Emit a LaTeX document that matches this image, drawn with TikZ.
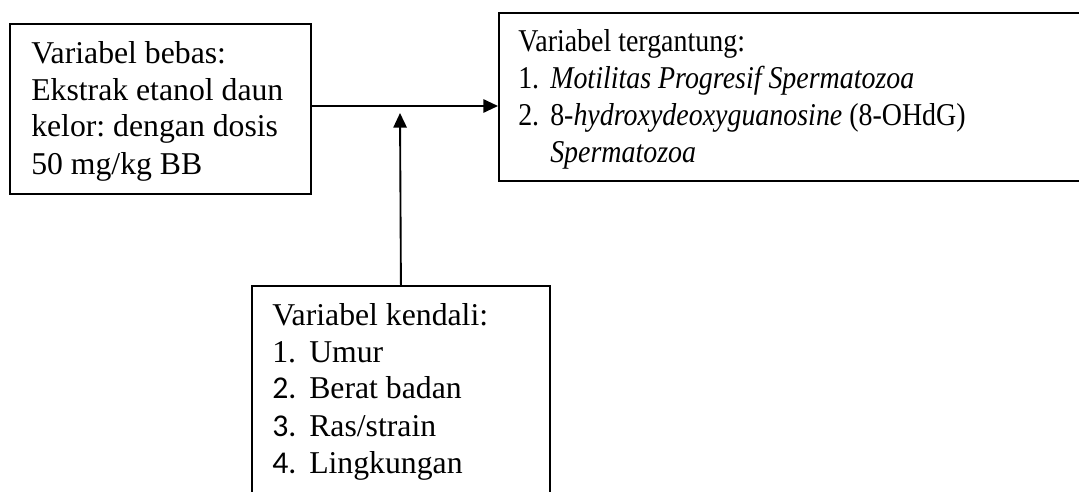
\documentclass[tikz,border=0pt]{standalone}
\usepackage{fontspec}
\setmainfont{Liberation Serif}
\newfontfamily\numfont{Carlito}
\usetikzlibrary{arrows.meta}
\frenchspacing
% condensed text in the dependent-variable box
\newcommand{\cond}[1]{\scalebox{0.88}[1]{#1}}
\begin{document}
\begin{tikzpicture}[x=0.75pt,y=-0.75pt,
  box/.style={draw, line width=1.4pt, rectangle, inner sep=0pt, anchor=north west},
  txt/.style={anchor=base west, inner sep=0pt, font=\fontsize{23.8}{28}\selectfont},
  link/.style={line width=1.4pt, -{Triangle[length=11pt,width=10pt]}}]
\useasboundingbox (0,0) rectangle (1079,492);
\clip (0,0) rectangle (1079,492);

% boxes
\node[box, minimum width=225.75pt, minimum height=127.5pt] (bebas) at (9,23) {};
\node[box, minimum width=444pt, minimum height=126pt] (tergantung) at (498,12) {};
\node[box, minimum width=223.5pt, minimum height=161.25pt] (kendali) at (251,285) {};

% independent variable
\node[txt] (b1) at (31,64) {Variabel bebas:};
\node[txt] (b2) at (31,101) {Ekstrak etanol daun};
\node[txt] (b3) at (31,137) {kelor: dengan dosis};
\node[txt] (b4) at (31,174) {50 mg/kg BB};

% dependent variable
\node[txt] (t0) at (518,52) {\cond{Variabel tergantung:}};
\node[txt] (t1n) at (518,89) {\cond{1.}};
\node[txt] (t1) at (550,89) {\cond{\textit{Motilitas Progresif Spermatozoa}}};
\node[txt] (t2n) at (518,126) {\cond{2.}};
\node[txt] (t2) at (550,126) {\cond{8-\textit{hydroxydeoxyguanosine} (8-OHdG)}};
\node[txt] (t3) at (550,162) {\cond{\textit{Spermatozoa}}};

% control variables
\node[txt] (k0) at (272,325) {Variabel kendali:};
\node[txt] (k1n) at (272,362) {1.};
\node[txt] (k1) at (309,362) {Umur};
\node[txt] (k2n) at (272,398) {\numfont 2.};
\node[txt] (k2) at (309,398) {Berat badan};
\node[txt] (k3n) at (272,436) {\numfont 3.};
\node[txt] (k3) at (309,436) {Ras/strain};
\node[txt] (k4n) at (272,473) {\numfont 4.};
\node[txt] (k4) at (309,473) {Lingkungan};

% connectors
\coordinate (j) at (400,106);
\coordinate (tip) at (400,113);
\draw[link] (bebas.east |- j) -- (tergantung.west |- j);
\draw[link] (kendali.north) -- (tip);
\end{tikzpicture}
\end{document}
